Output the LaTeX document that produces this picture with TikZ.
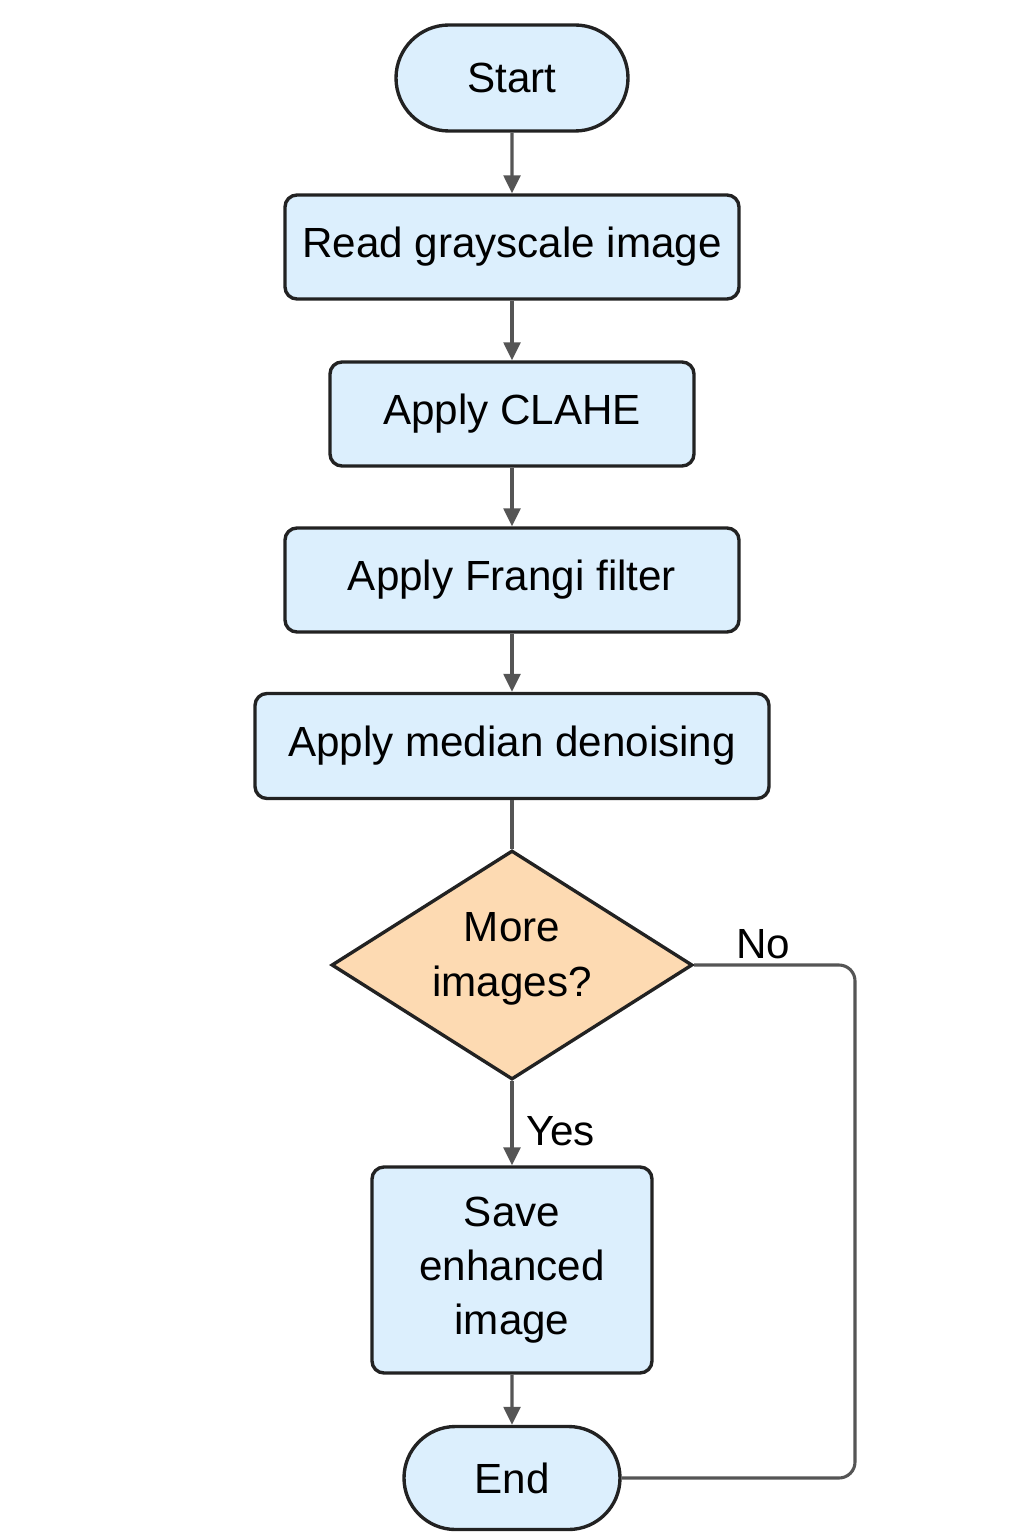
\documentclass[tikz,border=0pt]{standalone}
\usepackage{fontspec}
\setmainfont{Liberation Sans}
\usepackage{tikz}
\usetikzlibrary{shapes.geometric,shapes.misc,arrows.meta}
\definecolor{boxblue}{RGB}{220,239,253}
\definecolor{decpeach}{RGB}{253,218,178}
\definecolor{edge}{RGB}{34,34,34}
\definecolor{wire}{RGB}{85,85,85}

\begin{document}
\begin{tikzpicture}[
  every node/.style={font=\fontsize{30}{38.5}\selectfont, text=black},
  terminal/.style={rounded rectangle, draw=edge, line width=2.4pt, fill=boxblue, inner sep=0pt},
  process/.style={rectangle, rounded corners=0.3cm, draw=edge, line width=2.4pt, fill=boxblue, inner sep=0pt, minimum height=2.6cm, align=center},
  decision/.style={diamond, draw=edge, line width=2.4pt, fill=decpeach, inner sep=0pt, align=center},
  flow/.style={draw=wire, line width=2.2pt},
  flowarrow/.style={flow, -{Triangle[length=0.45cm,width=0.42cm]}}
]
\useasboundingbox (0,0) rectangle (25.6,-38.4);

%the steps, one under the other
\node[terminal, minimum width=5.8cm, minimum height=2.65cm] (start) at (12.8,-1.95) {Start};
\node[process, minimum width=11.35cm] (read) at (12.8,-6.175) {Read grayscale image};
\node[process, minimum width=9.1cm] (clahe) at (12.8,-10.35) {Apply CLAHE};
\node[process, minimum width=11.35cm] (frangi) at (12.8,-14.5) {Apply Frangi filter};
\node[process, minimum width=12.85cm, minimum height=2.625cm] (median) at (12.8,-18.65) {Apply median denoising};
\node[decision, minimum width=9.025cm, minimum height=5.725cm] (more) at (12.8,-24.125) {};
\node (moretext) at (12.8,-23.97) [align=center] {More\\images?};
\node[process, minimum width=7cm, minimum height=5.15cm] (save) at (12.8,-31.75) {Save\\enhanced\\image};
\node[terminal, minimum width=5.4cm, minimum height=2.575cm] (stop) at (12.8,-36.95) {End};

%connectors
\draw[flowarrow] (start) -- (read);
\draw[flowarrow] (read) -- (clahe);
\draw[flowarrow] (clahe) -- (frangi);
\draw[flowarrow] (frangi) -- (median);
\draw[flow] (median) -- (more);
\draw[flowarrow] (more) -- (save) node[midway, anchor=west, xshift=0.2cm, yshift=-0.2cm]{Yes};
\draw[flowarrow] (save) -- (stop);

%the No branch back down to End
\coordinate (turn) at (21.375,-24.125);
\draw[flow, rounded corners=0.4cm] (more.east) -- (turn) |- (stop.east);
\node[anchor=south] (nolabel) at (19.075,-24.1) {No};

\end{tikzpicture}
\end{document}
